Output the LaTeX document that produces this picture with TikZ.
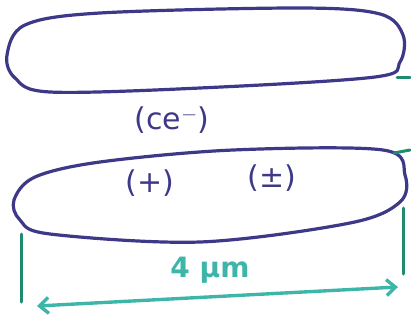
\documentclass[tikz,border=0pt]{standalone}
\usepackage{fontspec}
\setmainfont{DejaVu Sans}
\usetikzlibrary{arrows.meta}
\definecolor{cellpurple}{HTML}{3E3888}
\definecolor{dimgreen}{HTML}{1E8C6E}
\definecolor{dimteal}{HTML}{3DB6A9}
\tikzset{
  cellwall/.style={draw=cellpurple, line width=3.2pt, line join=round},
  dimline/.style={draw=dimgreen, line width=3pt, line cap=round},
  dimarrow/.style={draw=dimteal, line width=3.4pt, line cap=round, {Straight Barb[length=9pt,width=16pt]}-{Straight Barb[length=9pt,width=16pt]}},
  ionlabel/.style={text=cellpurple, font=\fontsize{30}{30}\selectfont, inner sep=0pt},
  sizelabel/.style={text=dimteal, font=\bfseries\fontsize{28}{28}\selectfont, inner sep=0pt}
}
\begin{document}
\begin{tikzpicture}[x=1pt,y=-1pt]
\useasboundingbox (0,0) rectangle (411,321);
% top cell
\draw[cellwall] plot[smooth cycle, tension=0.55] coordinates {
  (7,55) (25,25) (100,13) (300,8) (380,14) (403,35) (400,62) (375,77) (200,88) (50,92) (15,78)};
% bottom cell
\draw[cellwall] plot[smooth cycle, tension=0.55] coordinates {
  (14,200) (35,177) (100,162) (233,150) (383,150) (405,175) (400,202) (350,223) (200,242) (50,234) (20,220)};
% labels
\node[ionlabel] (cl) at (172,120) {(ce$^{-}$)};
\node[ionlabel] (p1) at (150,183) {(+)};
\node[ionlabel] (p2) at (272,178) {(±)};
\node[sizelabel] (len) at (210,270) {4 μm};
% dimension marks
\coordinate (tl) at (21,234);
\coordinate (bl) at (21,302);
\coordinate (tr) at (403,208);
\coordinate (br) at (403,274);
\draw[dimline] (tl) -- (bl);
\draw[dimline] (tr) -- (br);
\coordinate (m1a) at (397,77);
\coordinate (m1b) at (410,77);
\coordinate (m2a) at (394,153);
\coordinate (m2b) at (410,150);
\draw[dimline] (m1a) -- (m1b);
\draw[dimline] (m2a) -- (m2b);
\coordinate (al) at (37,306);
\coordinate (ar) at (398,287);
\draw[dimarrow] (al) -- (ar);
\end{tikzpicture}
\end{document}
